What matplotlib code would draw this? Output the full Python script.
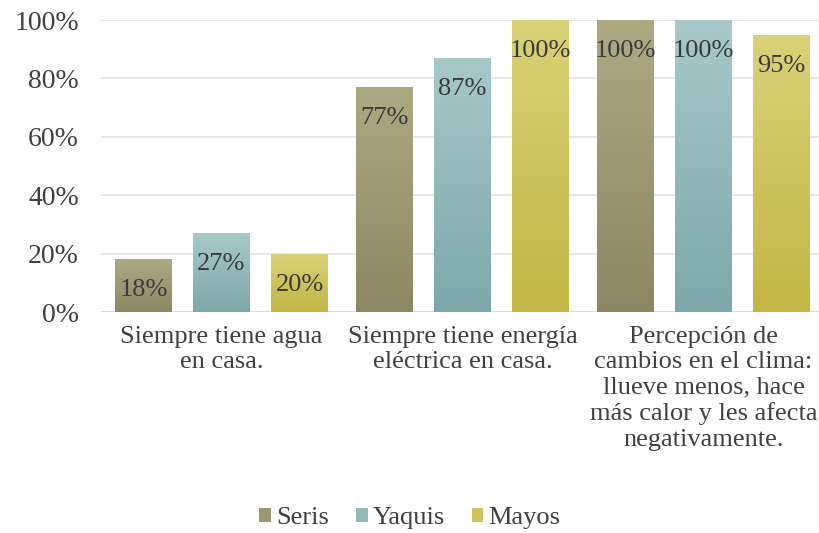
import numpy as np
import matplotlib.pyplot as plt
from matplotlib.colors import LinearSegmentedColormap

plt.rcParams["font.family"] = ["Liberation Serif", "DejaVu Serif"]

categorias = [
    "Siempre tiene agua\nen casa.",
    "Siempre tiene energía\neléctrica en casa.",
    "Percepción de\ncambios en el clima:\nllueve menos, hace\nmás calor y les afecta\nnegativamente.",
]
grupos = ["Seris", "Yaquis", "Mayos"]
seris = [18, 77, 100]
yaquis = [27, 87, 100]
mayos = [20, 100, 95]
valores = [seris, yaquis, mayos]

# degradado de cada serie: color arriba, color medio (leyenda), color abajo
colores = {
    "Seris": ("#ada983", "#9d9873", "#8c8763"),
    "Yaquis": ("#a8c9c9", "#93b9b9", "#7da8a9"),
    "Mayos": ("#d9d278", "#cec45e", "#c2b645"),
}

fig = plt.figure(figsize=(8.2, 5.33), dpi=100)
ax = fig.add_axes([101 / 820, 221 / 533, 723 / 820, 292 / 533])

x = np.arange(len(categorias))
ancho = 0.236
paso = 0.324
grad = np.linspace(0, 1, 256).reshape(-1, 1)

for i, (nombre, vals) in enumerate(zip(grupos, valores)):
    arriba, medio, abajo = colores[nombre]
    cmap = LinearSegmentedColormap.from_list(nombre, [abajo, arriba])
    pos = x + (i - 1) * paso
    barras = ax.bar(pos, vals, width=ancho, color=medio, label=nombre, zorder=2)
    for b, v in zip(barras, vals):
        x0 = b.get_x()
        img = ax.imshow(grad, cmap=cmap, origin="lower", aspect="auto",
                        extent=[x0, x0 + b.get_width(), 0, v], zorder=3)
        img.set_clip_path(b)
        ax.annotate(f"{v}%", (b.get_x() + b.get_width() / 2, v),
                    xytext=(0, -31), textcoords="offset pixels",
                    ha="center", va="center", fontsize=19, color="#3a3a3a",
                    zorder=4)

ax.set_xlim(-0.5, 2.5)
ax.set_ylim(0, 100)
ax.set_yticks(range(0, 101, 20))
ax.set_yticklabels([f"{t}%" for t in range(0, 101, 20)], fontsize=20, color="#404040")
ax.set_xticks(x)
ax.set_xticklabels(categorias, fontsize=19, color="#404040", linespacing=1.2)
ax.tick_params(axis="both", length=0)
ax.tick_params(axis="x", pad=10)
ax.tick_params(axis="y", pad=16)
ax.grid(axis="y", color="#e3e3e3", linewidth=1.2, zorder=0)
ax.set_axisbelow(True)
for s in ax.spines.values():
    s.set_visible(False)
ax.axhline(0, color="#d9d9d9", linewidth=1.2, zorder=1)

leg = fig.legend(loc="center", bbox_to_anchor=(410 / 820, 1 - 518 / 533), ncol=3,
                 frameon=False, fontsize=19, handlelength=0.45, handleheight=0.45,
                 handletextpad=0.2, columnspacing=1.0, labelcolor="#404040")

plt.savefig("out.png")
